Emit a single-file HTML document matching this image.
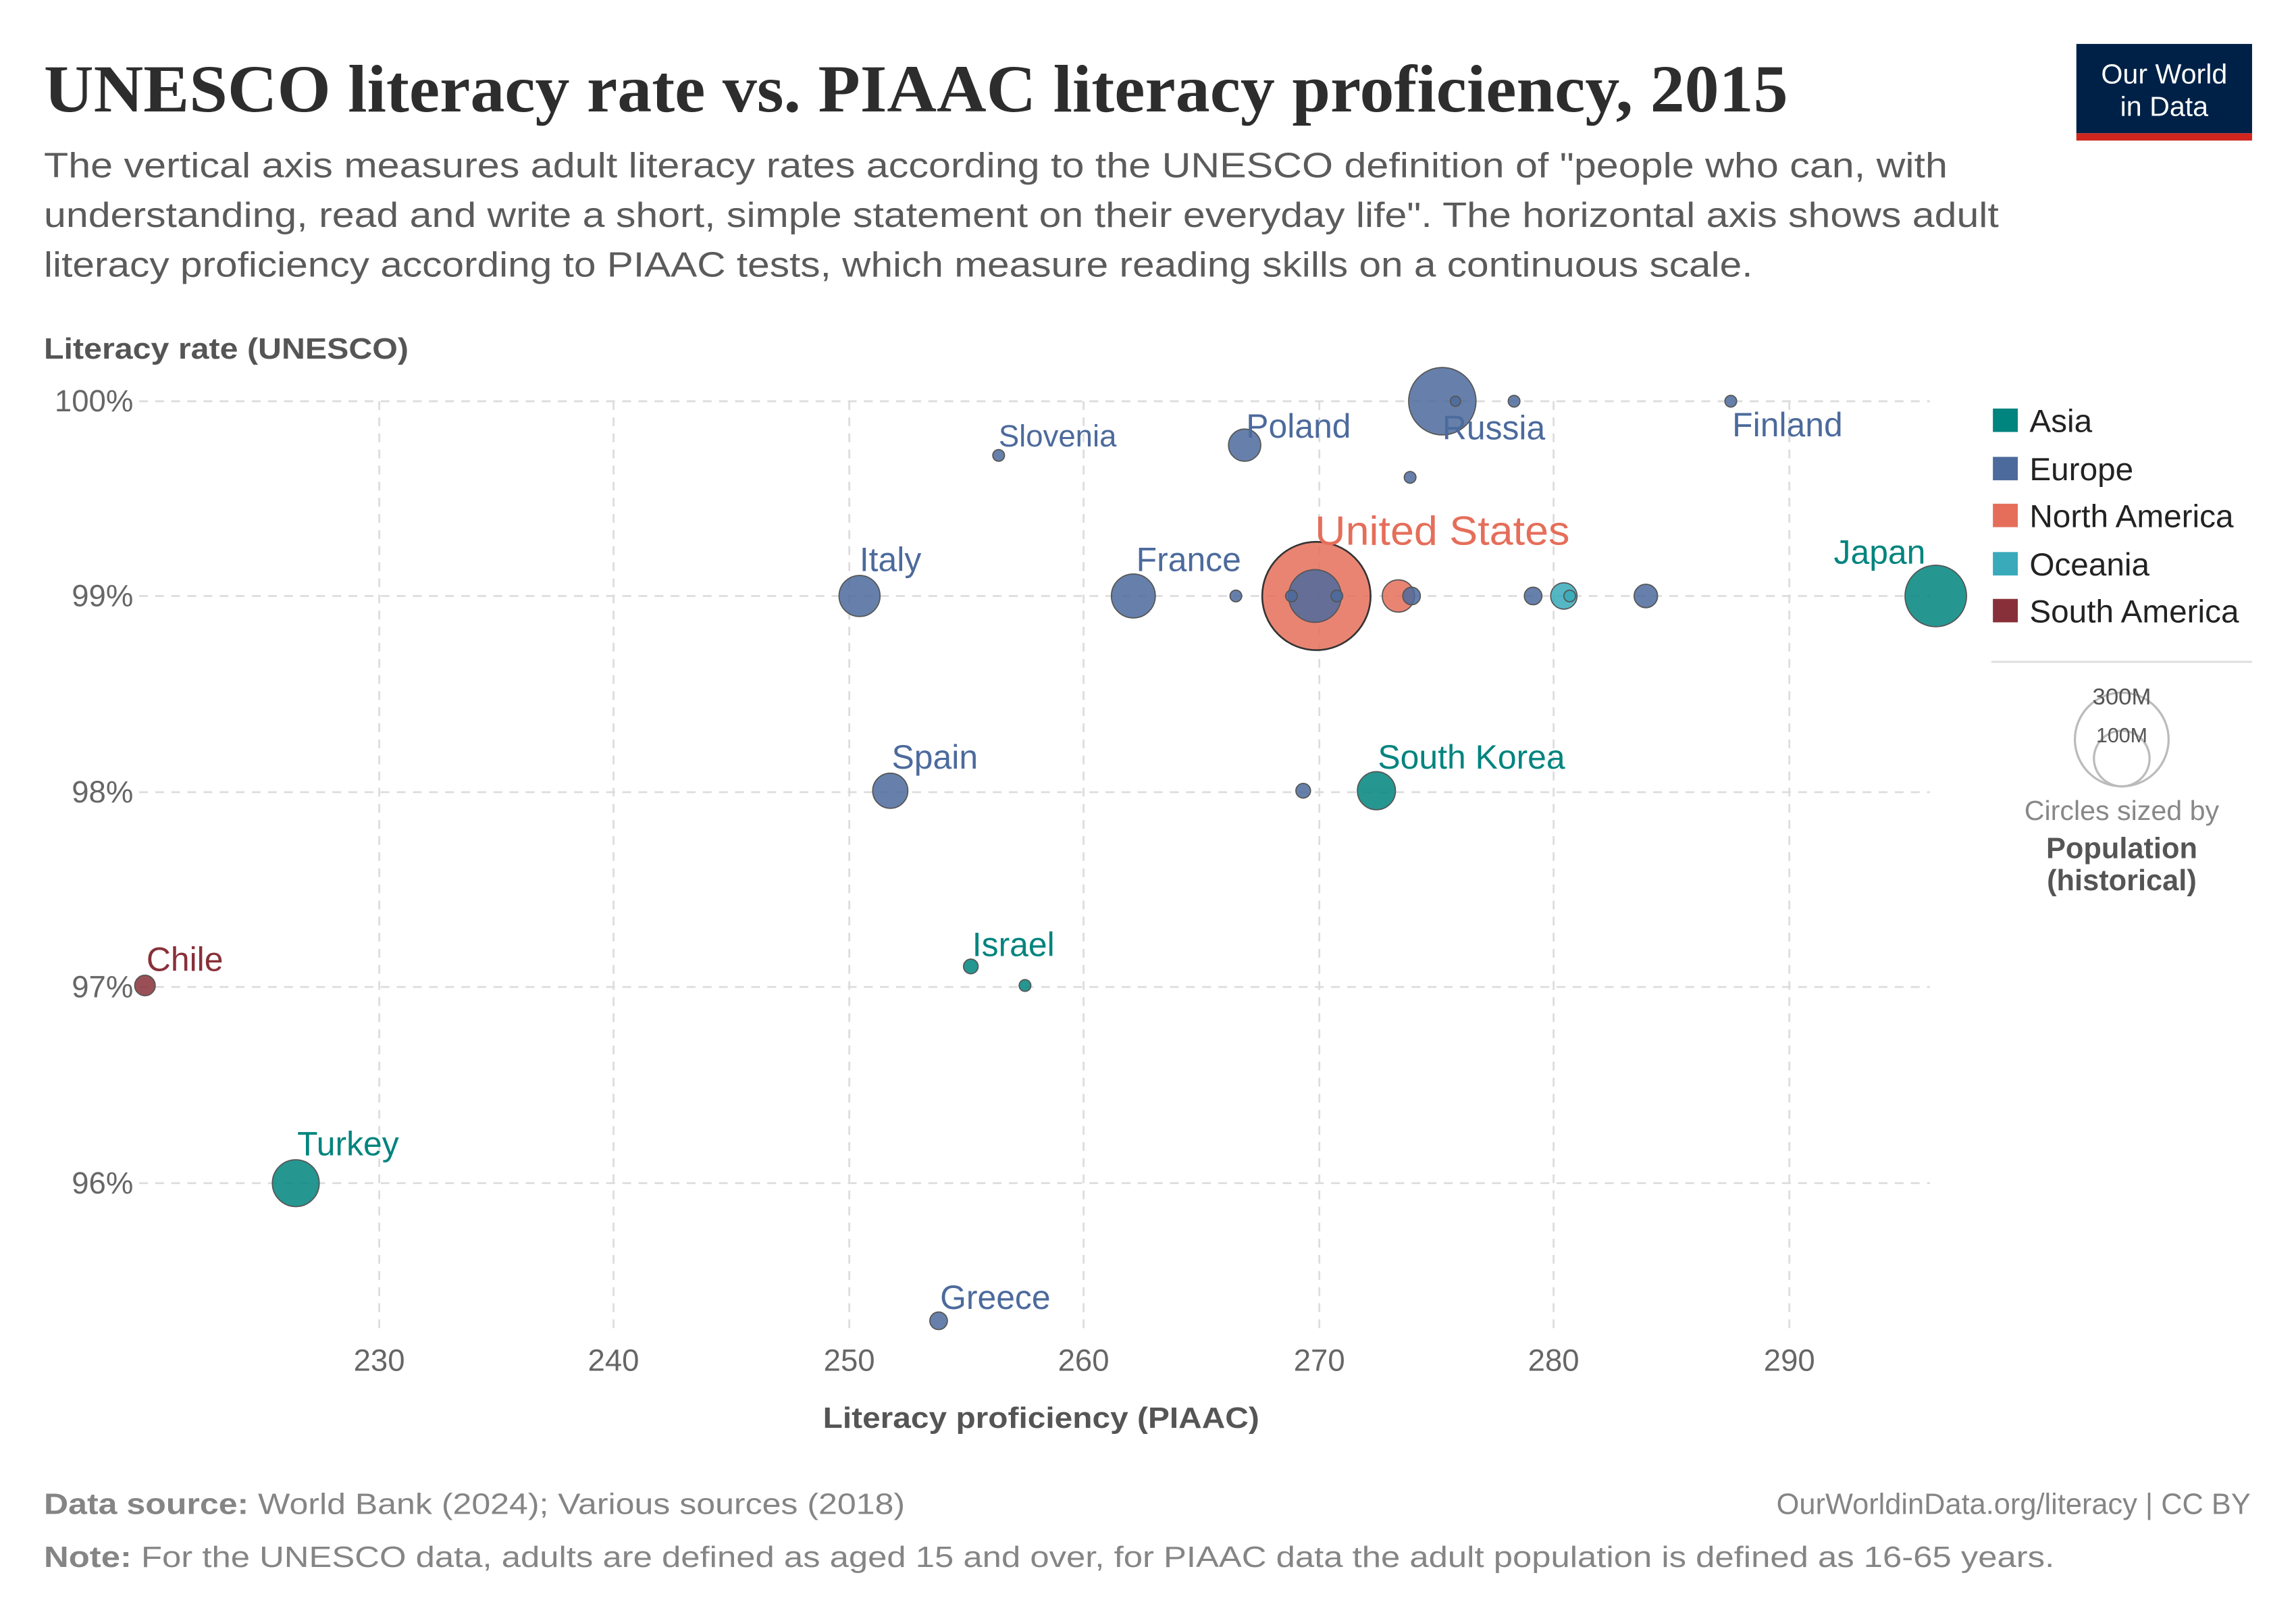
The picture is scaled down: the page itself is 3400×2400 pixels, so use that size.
<!DOCTYPE html>
<html><head><meta charset="utf-8"><style>html,body{margin:0;padding:0;background:#fff}svg{display:block}</style></head>
<body>
<svg width="3400" height="2400" viewBox="0 0 1568 1107" preserveAspectRatio="none" xmlns="http://www.w3.org/2000/svg" font-family="'Liberation Sans', sans-serif">
<rect width="1568" height="1107" fill="#fff"/>
<text x="30" y="76" font-family="'Liberation Serif', serif" font-weight="bold" font-size="46" fill="#2d2d2d" textLength="1191" lengthAdjust="spacingAndGlyphs">UNESCO literacy rate vs. PIAAC literacy proficiency, 2015</text>
<g font-size="24" fill="#5b5b5b">
<text x="30" y="121" textLength="1300" lengthAdjust="spacingAndGlyphs">The vertical axis measures adult literacy rates according to the UNESCO definition of "people who can, with</text>
<text x="30" y="155" textLength="1335" lengthAdjust="spacingAndGlyphs">understanding, read and write a short, simple statement on their everyday life". The horizontal axis shows adult</text>
<text x="30" y="189" textLength="1167" lengthAdjust="spacingAndGlyphs">literacy proficiency according to PIAAC tests, which measure reading skills on a continuous scale.</text>
</g>
<rect x="1418" y="30" width="120" height="61" fill="#002147"/>
<rect x="1418" y="91" width="120" height="5" fill="#ce261e"/>
<text x="1478" y="57" font-size="19" fill="#fff" text-anchor="middle" font-weight="500">Our World</text>
<text x="1478" y="79" font-size="19" fill="#fff" text-anchor="middle">in Data</text>
<text x="30" y="245" font-size="20" font-weight="bold" fill="#555" textLength="249" lengthAdjust="spacingAndGlyphs">Literacy rate (UNESCO)</text>
<g stroke="#ddd" stroke-width="1.3" stroke-dasharray="6,5">
<line x1="95" x2="1318" y1="274" y2="274"/><line x1="95" x2="1318" y1="407" y2="407"/><line x1="95" x2="1318" y1="541" y2="541"/><line x1="95" x2="1318" y1="674" y2="674"/><line x1="95" x2="1318" y1="808" y2="808"/>
<line x1="259" x2="259" y1="274" y2="912"/><line x1="419" x2="419" y1="274" y2="912"/><line x1="580" x2="580" y1="274" y2="912"/><line x1="740" x2="740" y1="274" y2="912"/><line x1="901" x2="901" y1="274" y2="912"/><line x1="1061" x2="1061" y1="274" y2="912"/><line x1="1222" x2="1222" y1="274" y2="912"/>
</g>
<g font-size="21" fill="#666" text-anchor="end">
<text x="91" y="281">100%</text><text x="91" y="414">99%</text><text x="91" y="548">98%</text><text x="91" y="681">97%</text><text x="91" y="815">96%</text>
</g>
<g font-size="21" fill="#666" text-anchor="middle">
<text x="259" y="936">230</text><text x="419" y="936">240</text><text x="580" y="936">250</text><text x="740" y="936">260</text><text x="901" y="936">270</text><text x="1061" y="936">280</text><text x="1222" y="936">290</text>
</g>
<text x="711" y="975" font-size="20" font-weight="bold" fill="#555" text-anchor="middle" textLength="298" lengthAdjust="spacingAndGlyphs">Literacy proficiency (PIAAC)</text>
<g stroke="#555" stroke-width="0.8" fill-opacity="0.85">
<circle cx="899" cy="407" r="37" fill="#e56e5a" stroke="#333" stroke-width="1.2"/>
<circle cx="898" cy="407" r="18" fill="#4c6a9c"/>
<circle cx="882" cy="407" r="4" fill="#4c6a9c"/>
<circle cx="913" cy="407" r="4" fill="#4c6a9c"/>
<circle cx="985" cy="274" r="23" fill="#4c6a9c"/>
<circle cx="994" cy="274" r="3.5" fill="#4c6a9c"/>
<circle cx="1034" cy="274" r="4" fill="#4c6a9c"/>
<circle cx="1182" cy="274" r="4" fill="#4c6a9c"/>
<circle cx="682" cy="311" r="4" fill="#4c6a9c"/>
<circle cx="850" cy="304" r="11" fill="#4c6a9c"/>
<circle cx="963" cy="326" r="4" fill="#4c6a9c"/>
<circle cx="587" cy="407" r="14" fill="#4c6a9c"/>
<circle cx="774" cy="407" r="15" fill="#4c6a9c"/>
<circle cx="844" cy="407" r="4" fill="#4c6a9c"/>
<circle cx="955" cy="407" r="11" fill="#e56e5a"/>
<circle cx="964" cy="407" r="6" fill="#4c6a9c"/>
<circle cx="1047" cy="407" r="6" fill="#4c6a9c"/>
<circle cx="1068" cy="407" r="9" fill="#38aaba"/>
<circle cx="1072" cy="407" r="4" fill="#38aaba"/>
<circle cx="1124" cy="407" r="8" fill="#4c6a9c"/>
<circle cx="1322" cy="407" r="21" fill="#00847e"/>
<circle cx="608" cy="540" r="12" fill="#4c6a9c"/>
<circle cx="890" cy="540" r="5" fill="#4c6a9c"/>
<circle cx="940" cy="540" r="13" fill="#00847e"/>
<circle cx="663" cy="660" r="5" fill="#00847e"/>
<circle cx="700" cy="673" r="4" fill="#00847e"/>
<circle cx="99" cy="673" r="7" fill="#883039"/>
<circle cx="202" cy="808" r="16" fill="#00847e"/>
<circle cx="641" cy="902" r="6" fill="#4c6a9c"/>
</g>
<g font-size="23">
<text x="1183" y="298" fill="#4c6a9c">Finland</text>
<text x="682" y="305" fill="#4c6a9c" font-size="21">Slovenia</text>
<text x="851" y="299" fill="#4c6a9c">Poland</text>
<text x="985" y="300" fill="#4c6a9c">Russia</text>
<text x="587" y="390" fill="#4c6a9c">Italy</text>
<text x="776" y="390" fill="#4c6a9c">France</text>
<text x="898" y="372" fill="#e56e5a" font-size="28" textLength="174" lengthAdjust="spacingAndGlyphs">United States</text>
<text x="1315" y="385" fill="#00847e" text-anchor="end">Japan</text>
<text x="609" y="525" fill="#4c6a9c">Spain</text>
<text x="941" y="525" fill="#00847e">South Korea</text>
<text x="664" y="653" fill="#00847e">Israel</text>
<text x="100" y="663" fill="#883039">Chile</text>
<text x="203" y="789" fill="#00847e">Turkey</text>
<text x="642" y="894" fill="#4c6a9c">Greece</text>
</g>
<g font-size="22" fill="#222">
<rect x="1361" y="279" width="17" height="16" fill="#00847e"/><text x="1386" y="295">Asia</text>
<rect x="1361" y="312" width="17" height="16" fill="#4c6a9c"/><text x="1386" y="328">Europe</text>
<rect x="1361" y="344" width="17" height="16" fill="#e56e5a"/><text x="1386" y="360">North America</text>
<rect x="1361" y="377" width="17" height="16" fill="#38aaba"/><text x="1386" y="393">Oceania</text>
<rect x="1361" y="409" width="17" height="16" fill="#883039"/><text x="1386" y="425">South America</text>
</g>
<line x1="1360" x2="1538" y1="452" y2="452" stroke="#ddd" stroke-width="1.3"/>
<circle cx="1449" cy="505" r="32" fill="none" stroke="#bbb" stroke-width="1.5"/>
<circle cx="1449" cy="518" r="19" fill="none" stroke="#bbb" stroke-width="1.5"/>
<text x="1449" y="481" font-size="16" fill="#555" text-anchor="middle">300M</text>
<text x="1449" y="507" font-size="14" fill="#555" text-anchor="middle">100M</text>
<text x="1449" y="560" font-size="19" fill="#888" text-anchor="middle">Circles sized by</text>
<text x="1449" y="586" font-size="20" fill="#555" font-weight="bold" text-anchor="middle">Population</text>
<text x="1449" y="608" font-size="20" fill="#555" font-weight="bold" text-anchor="middle">(historical)</text>
<text x="30" y="1034" font-size="20" fill="#858585" textLength="588" lengthAdjust="spacingAndGlyphs"><tspan font-weight="bold">Data source:</tspan> World Bank (2024); Various sources (2018)</text>
<text x="1537" y="1034" font-size="20" fill="#858585" text-anchor="end">OurWorldinData.org/literacy | CC BY</text>
<text x="30" y="1070" font-size="20" fill="#858585" textLength="1373" lengthAdjust="spacingAndGlyphs"><tspan font-weight="bold">Note:</tspan> For the UNESCO data, adults are defined as aged 15 and over, for PIAAC data the adult population is defined as 16-65 years.</text>
</svg>
</body></html>
